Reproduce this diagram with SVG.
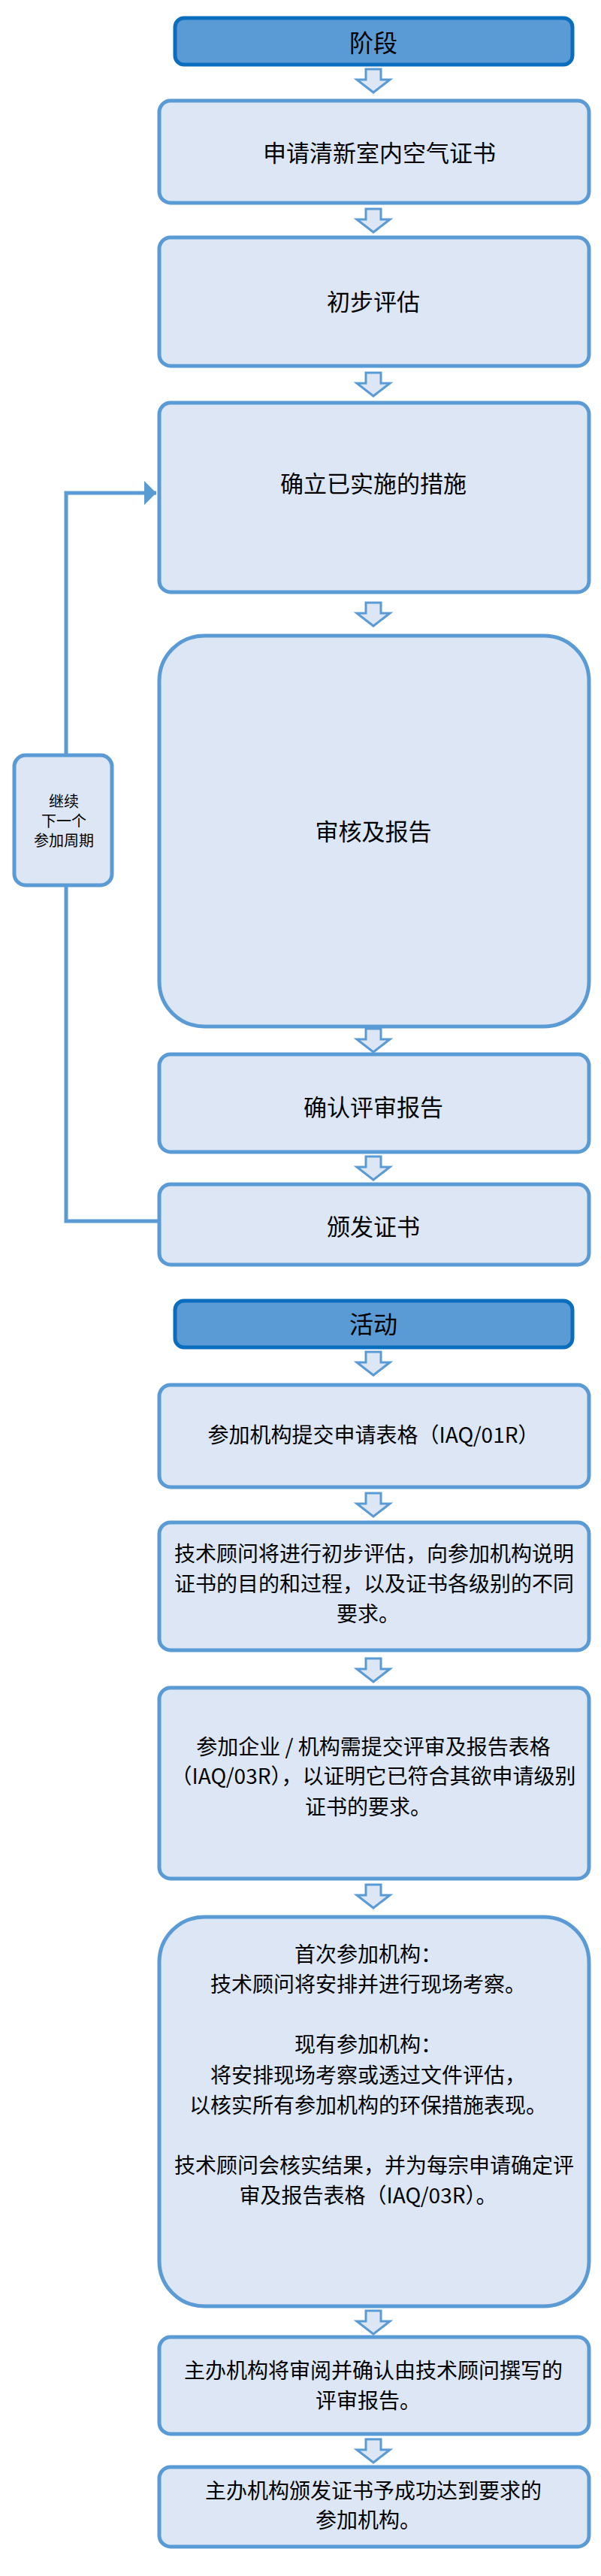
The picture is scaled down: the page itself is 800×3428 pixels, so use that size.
<svg xmlns="http://www.w3.org/2000/svg" xmlns:xlink="http://www.w3.org/1999/xlink" width="800" height="3428" viewBox="0 0 800 3428">
<style>
.hdr{fill:#5b9bd5;stroke:#0b6dbd;stroke-width:5}
.box{fill:#dce6f5;stroke:#5b9bd5;stroke-width:5}
.t{font-family:"Noto Sans CJK SC","Noto Sans",sans-serif;fill:#000;text-anchor:middle;dominant-baseline:central}
.ph{font-size:31px}
.hd{font-size:32px}
.ac{font-size:28px}
.sm{font-size:20px}
.blk{fill:#dce6f5;stroke:#5b9bd5;stroke-width:3;stroke-linejoin:miter}
.conn{fill:none;stroke:#5b9bd5;stroke-width:5}
</style>
<defs>
<path id="ba" d="M-10,0 H10 V14 H22 L0,31 L-22,14 H-10 Z"/>
<marker id="ah" markerUnits="userSpaceOnUse" markerWidth="18" markerHeight="32" viewBox="0 0 18 32" refX="16" refY="16" orient="auto">
<path d="M0,0 L16,16 L0,32 Z" fill="#5b9bd5"/>
</marker>
</defs>
<g id="connectors">
<path class="conn" d="M212,1625 H88 V656 H208" marker-end="url(#ah)"/>
<use xlink:href="#ba" class="blk" transform="translate(497,92)"/>
<use xlink:href="#ba" class="blk" transform="translate(497,278)"/>
<use xlink:href="#ba" class="blk" transform="translate(497,496)"/>
<use xlink:href="#ba" class="blk" transform="translate(497,802)"/>
<use xlink:href="#ba" class="blk" transform="translate(497,1369)"/>
<use xlink:href="#ba" class="blk" transform="translate(497,1539)"/>
<use xlink:href="#ba" class="blk" transform="translate(497,1799)"/>
<use xlink:href="#ba" class="blk" transform="translate(497,1987)"/>
<use xlink:href="#ba" class="blk" transform="translate(497,2207)"/>
<use xlink:href="#ba" class="blk" transform="translate(497,2508)"/>
<use xlink:href="#ba" class="blk" transform="translate(497,3075)"/>
<use xlink:href="#ba" class="blk" transform="translate(497,3246)"/>
</g>
<g id="hdr-phase">
<rect class="hdr" x="233" y="24" width="529" height="62" rx="12"/>
<text class="t hd" x="497" y="55">阶段</text>
</g>
<g id="p1">
<rect class="box" x="212" y="134" width="572" height="136" rx="15"/>
<text class="t ph" x="505" y="201">申请清新室内空气证书</text>
</g>
<g id="p2">
<rect class="box" x="212" y="316" width="572" height="171" rx="15"/>
<text class="t ph" x="497" y="399">初步评估</text>
</g>
<g id="p3">
<rect class="box" x="212" y="536" width="572" height="252" rx="15"/>
<text class="t ph" x="497" y="641">确立已实施的措施</text>
</g>
<g id="p4">
<rect class="box" x="212" y="846" width="572" height="520" rx="60"/>
<text class="t ph" x="497" y="1104">审核及报告</text>
</g>
<g id="p5">
<rect class="box" x="212" y="1403" width="572" height="130" rx="15"/>
<text class="t ph" x="497" y="1471">确认评审报告</text>
</g>
<g id="p6">
<rect class="box" x="212" y="1576" width="572" height="107" rx="15"/>
<text class="t ph" x="497" y="1630">颁发证书</text>
</g>
<g id="cycle">
<rect class="box" x="19" y="1005" width="130" height="173" rx="15"/>
<text class="t sm" x="85" y="1065">继续</text>
<text class="t sm" x="85" y="1091">下一个</text>
<text class="t sm" x="85" y="1117">参加周期</text>
</g>
<g id="hdr-activity">
<rect class="hdr" x="233" y="1731" width="529" height="62" rx="12"/>
<text class="t hd" x="497" y="1760">活动</text>
</g>
<g id="a1">
<rect class="box" x="212" y="1843" width="572" height="136" rx="15"/>
<text class="t ac" x="497" y="1908">参加机构提交申请表格（IAQ/01R）</text>
</g>
<g id="a2">
<rect class="box" x="212" y="2026" width="572" height="170" rx="15"/>
<text class="t ac" x="498" y="2066">技术顾问将进行初步评估，向参加机构说明</text>
<text class="t ac" x="498" y="2106">证书的目的和过程，以及证书各级别的不同</text>
<text class="t ac" x="490" y="2146">要求。</text>
</g>
<g id="a3">
<rect class="box" x="212" y="2246" width="572" height="254" rx="15"/>
<text class="t ac" x="497" y="2323">参加企业 / 机构需提交评审及报告表格</text>
<text class="t ac" x="497" y="2362">（IAQ/03R），以证明它已符合其欲申请级别</text>
<text class="t ac" x="490" y="2403">证书的要求。</text>
</g>
<g id="a4">
<rect class="box" x="212" y="2551" width="572" height="518" rx="60"/>
<text class="t ac" x="490" y="2599">首次参加机构：</text>
<text class="t ac" x="490" y="2639">技术顾问将安排并进行现场考察。</text>
<text class="t ac" x="490" y="2719">现有参加机构：</text>
<text class="t ac" x="490" y="2760">将安排现场考察或透过文件评估，</text>
<text class="t ac" x="490" y="2800">以核实所有参加机构的环保措施表现。</text>
<text class="t ac" x="498" y="2880">技术顾问会核实结果，并为每宗申请确定评</text>
<text class="t ac" x="490" y="2920">审及报告表格（IAQ/03R）。</text>
</g>
<g id="a5">
<rect class="box" x="212" y="3110" width="572" height="129" rx="15"/>
<text class="t ac" x="497" y="3153">主办机构将审阅并确认由技术顾问撰写的</text>
<text class="t ac" x="490" y="3193">评审报告。</text>
</g>
<g id="a6">
<rect class="box" x="212" y="3283" width="572" height="106" rx="15"/>
<text class="t ac" x="497" y="3313">主办机构颁发证书予成功达到要求的</text>
<text class="t ac" x="490" y="3352">参加机构。</text>
</g>
</svg>
